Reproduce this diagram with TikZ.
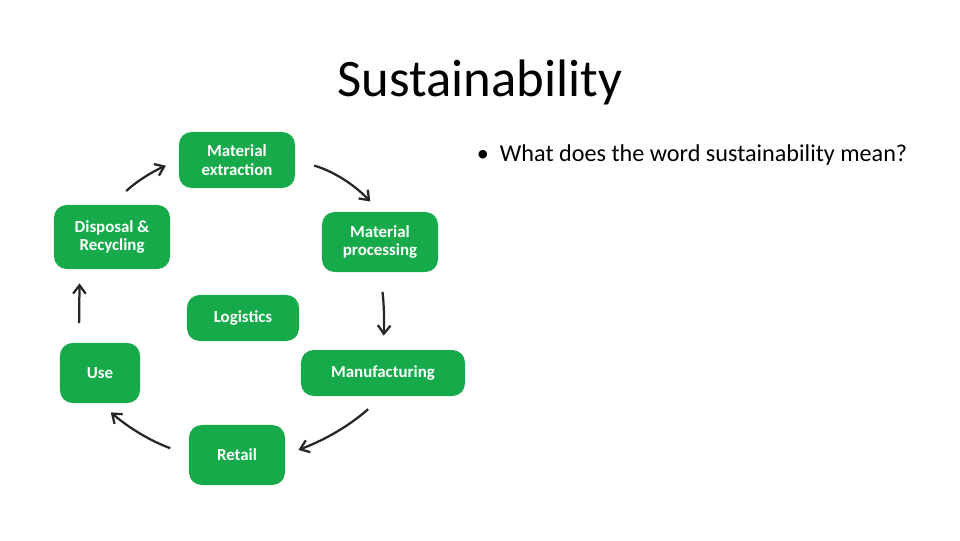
\documentclass[tikz,border=0pt]{standalone}
\usepackage{fontspec}
\setmainfont{Carlito}
\usetikzlibrary{arrows.meta}
\definecolor{leafgreen}{RGB}{22,170,75}
\tikzset{
    stage/.style={
        fill=leafgreen,rounded corners=9pt,
        text=white,font=\bfseries\fontsize{12}{13}\selectfont,
        align=center,inner sep=2pt
    },
    cycle arrow/.style={
        -{Straight Barb[length=6pt,width=9pt]},line width=1.6pt,
        black!85,shorten <=14pt,shorten >=10pt
    }
}
\begin{document}
\begin{tikzpicture}[x=0.025cm,y=-0.025cm]
        \useasboundingbox (0,0) rectangle (960,540);
        \node[font=\fontsize{37.5}{40}\selectfont] (title) at (480,82) {Sustainability};
        \node[anchor=west,font=\fontsize{17.2}{19}\selectfont] (bullet) at (472,155) {\textbullet\ \ What does the word sustainability mean?};
        \node[stage,minimum width=2.9cm,minimum height=1.4cm] (ext) at (237,160) {Material\\extraction};
        \node[stage,minimum width=2.9cm,minimum height=1.5cm] (proc) at (380,242) {Material\\processing};
        \node[stage,minimum width=2.8cm,minimum height=1.15cm] (log) at (243,318) {Logistics};
        \node[stage,minimum width=4.1cm,minimum height=1.15cm] (manu) at (383,373) {Manufacturing};
        \node[stage,minimum width=2.4cm,minimum height=1.5cm] (ret) at (237,455) {Retail};
        \node[stage,minimum width=2.0cm,minimum height=1.5cm] (use) at (100,373) {Use};
        \node[stage,minimum width=2.9cm,minimum height=1.6cm] (disp) at (112,237) {Disposal \&\\Recycling};
        \draw[cycle arrow] (ext.east) to[bend left=15] (proc.north);
        \draw[cycle arrow] (proc.south) to[bend left=5] (manu.north);
        \draw[cycle arrow] (manu.south) to[bend left=10] (ret.east);
        \draw[cycle arrow] (ret.west) to[bend left=10] (use.south);
        \draw[cycle arrow] ([xshift=-15pt]use.north) -- ([xshift=-23pt]disp.south);
        \draw[cycle arrow] (disp.north) to[bend left=10] (ext.west);
\end{tikzpicture}
\end{document}
